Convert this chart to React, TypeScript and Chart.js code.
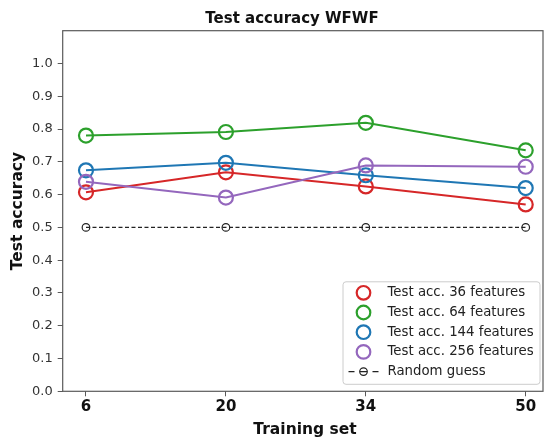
import { useEffect, useRef } from 'react';
import { Chart, registerables } from 'chart.js';

Chart.register(...registerables);

// Training set sizes and test accuracies per feature count
const trainingSets = [6, 20, 34, 50];
const acc36 = [0.607, 0.668, 0.625, 0.570];
const acc64 = [0.780, 0.791, 0.819, 0.735];
const acc144 = [0.674, 0.697, 0.659, 0.620];
const acc256 = [0.639, 0.591, 0.689, 0.685];
const randomGuess = [0.5, 0.5, 0.5, 0.5];

const seriesLabels = [
  'Test acc. 36 features',
  'Test acc. 64 features',
  'Test acc. 144 features',
  'Test acc. 256 features',
  'Random guess',
];
const seriesColors = ['#d62728', '#2ca02c', '#1f77b4', '#9467bd', '#222222'];

const FONT = '"DejaVu Sans", "Liberation Sans", sans-serif';

const toPoints = (ys: number[]) => trainingSets.map((x, i) => ({ x, y: ys[i] }));

const decorations = {
  id: 'decorations',
  afterDraw(chart: any) {
    const { ctx, chartArea } = chart;
    const { left, right, top, bottom } = chartArea;
    ctx.save();

    // axes frame
    ctx.strokeStyle = '#5a5a5a';
    ctx.lineWidth = 1.2;
    ctx.strokeRect(left, top, right - left, bottom - top);

    // title
    ctx.fillStyle = '#111';
    ctx.font = `bold 15px ${FONT}`;
    ctx.textAlign = 'center';
    ctx.textBaseline = 'alphabetic';
    ctx.fillText('Test accuracy WFWF', 292, 22.5);

    // axis titles
    ctx.font = `bold 15.5px ${FONT}`;
    ctx.fillText('Training set', 305, 434);
    ctx.save();
    ctx.translate(18, (top + bottom) / 2);
    ctx.rotate(-Math.PI / 2);
    ctx.textBaseline = 'middle';
    ctx.fillText('Test accuracy', 0, 0);
    ctx.restore();

    // legend
    const lw = 197;
    const lh = 102.5;
    const lx = right - 3 - lw;
    const ly = bottom - 7 - lh;
    ctx.beginPath();
    ctx.roundRect(lx, ly, lw, lh, 3);
    ctx.fillStyle = 'rgba(255,255,255,0.85)';
    ctx.fill();
    ctx.strokeStyle = '#cccccc';
    ctx.lineWidth = 1;
    ctx.stroke();

    ctx.font = `13.3px ${FONT}`;
    ctx.textAlign = 'left';
    ctx.textBaseline = 'middle';
    seriesLabels.forEach((label, i) => {
      const cy = ly + 11 + i * 19.7;
      const mx = lx + 20.5;
      if (i < 4) {
        ctx.beginPath();
        ctx.arc(mx, cy, 6.8, 0, Math.PI * 2);
        ctx.strokeStyle = seriesColors[i];
        ctx.lineWidth = 2.2;
        ctx.stroke();
      } else {
        // dashed line sample with a small open circle
        ctx.strokeStyle = seriesColors[i];
        ctx.lineWidth = 1.2;
        ctx.beginPath();
        ctx.moveTo(mx - 15, cy);
        ctx.lineTo(mx - 9, cy);
        ctx.moveTo(mx + 9, cy);
        ctx.lineTo(mx + 15, cy);
        ctx.moveTo(mx - 3.5, cy);
        ctx.lineTo(mx + 3.5, cy);
        ctx.stroke();
        ctx.beginPath();
        ctx.arc(mx, cy, 3.8, 0, Math.PI * 2);
        ctx.stroke();
      }
      ctx.fillStyle = '#222';
      ctx.fillText(label, lx + 44.5, cy);
    });

    ctx.restore();
  },
};

export default function App() {
  const canvasRef = useRef<HTMLCanvasElement | null>(null);

  useEffect(() => {
    const canvas = canvasRef.current;
    if (!canvas) return;

    const series = [acc36, acc64, acc144, acc256];
    const datasets: any[] = series.map((ys, i) => ({
      label: seriesLabels[i],
      data: toPoints(ys),
      borderColor: seriesColors[i],
      borderWidth: 2,
      pointStyle: 'circle',
      pointRadius: 7,
      pointBorderWidth: 2.2,
      pointBorderColor: seriesColors[i],
      pointBackgroundColor: 'rgba(0,0,0,0)',
      fill: false,
      tension: 0,
      order: 4 - i,
    }));
    datasets.push({
      label: seriesLabels[4],
      data: toPoints(randomGuess),
      borderColor: seriesColors[4],
      borderWidth: 1.2,
      borderDash: [4, 2.5],
      pointStyle: 'circle',
      pointRadius: 3.8,
      pointBorderWidth: 1.2,
      pointBorderColor: seriesColors[4],
      pointBackgroundColor: 'rgba(0,0,0,0)',
      fill: false,
      order: 5,
    });

    const chart = new Chart(canvas, {
      type: 'line',
      data: { datasets },
      options: {
        animation: false,
        responsive: false,
        devicePixelRatio: 1,
        layout: { autoPadding: false, padding: { top: 30.7, right: 3, left: 0, bottom: 0 } },
        plugins: {
          legend: { display: false },
          title: { display: false },
          tooltip: { enabled: false },
        },
        scales: {
          x: {
            type: 'linear',
            min: 3.67,
            max: 51.73,
            afterBuildTicks: (s: any) => {
              s.ticks = trainingSets.map((v) => ({ value: v }));
            },
            afterFit: (s: any) => {
              s.height = 50.7;
              s.paddingLeft = 0;
              s.paddingRight = 0;
            },
            ticks: {
              autoSkip: false,
              maxRotation: 0,
              padding: 2,
              color: '#111',
              font: { family: FONT, size: 15, weight: 'bold' },
              callback: (v: any) => String(v),
            },
            grid: { drawOnChartArea: false, tickLength: 5, color: '#5a5a5a' },
            border: { display: false },
          },
          y: {
            type: 'linear',
            min: 0,
            max: 1.1,
            afterBuildTicks: (s: any) => {
              s.ticks = s.ticks.filter((t: any) => t.value <= 1.0001);
            },
            afterFit: (s: any) => {
              s.width = 62.7;
              s.paddingTop = 0;
              s.paddingBottom = 0;
            },
            ticks: {
              stepSize: 0.1,
              padding: 5,
              color: '#333',
              font: { family: FONT, size: 13 },
              callback: (v: any) => Number(v).toFixed(1),
            },
            grid: { drawOnChartArea: false, tickLength: 5, color: '#5a5a5a' },
            border: { display: false },
          },
        },
      },
      plugins: [decorations],
    });

    return () => chart.destroy();
  }, []);

  return (
    <div style={{ position: 'absolute', left: 0, top: 0, width: 546, height: 442, background: '#fff' }}>
      <canvas ref={canvasRef} width={546} height={442} />
    </div>
  );
}
